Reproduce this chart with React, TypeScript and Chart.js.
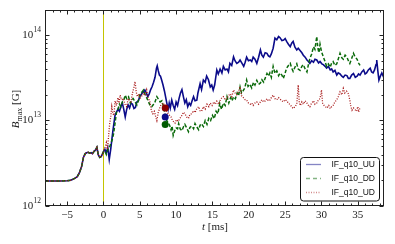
import React, { useEffect, useRef } from "react";
import { Chart, registerables } from "chart.js";
Chart.register(...registerables);

// Time t [ms], B_max in units of 10^12 G
const preShared: [number, number][] = [
  [-8, 1.96], [-6, 1.96], [-5, 1.97], [-4.5, 2.0], [-4.2, 2.05], [-3.9, 2.12], [-3.6, 2.2], [-3.3, 2.45],
  [-3.0, 2.9], [-2.75, 3.7], [-2.5, 4.1], [-2.3, 4.2], [-2.1, 4.25], [-1.9, 4.15], [-1.7, 4.2], [-1.5, 4.1],
  [-1.3, 4.35], [-1.1, 4.5], [-0.9, 4.85], [-0.7, 3.95], [-0.5, 3.7], [-0.3, 3.8], [-0.1, 4.1], [0, 4.3],
];

const seriesUU: [number, number][] = [
  [0.2, 4.6], [0.4, 4.2], [0.6, 4.8], [0.8, 3.5], [1.0, 4.6], [1.15, 5.9], [1.3, 7.5], [1.45, 9.3], [1.6, 11.5],
  [1.8, 12.5], [2.0, 13.5], [2.2, 12.8], [2.4, 14.5], [2.6, 16.0], [2.8, 13.5], [3.0, 11.0], [3.2, 13.5], [3.4, 15.2],
  [3.6, 14.0], [3.8, 16.0], [4.0, 15.5], [4.2, 13.8], [4.4, 14.2], [4.6, 16.5], [4.8, 17.0], [5.0, 19.0], [5.3, 20.7],
  [5.5, 21.5], [5.7, 22.7], [5.9, 21.0], [6.1, 19.0], [6.3, 20.5], [6.5, 23.0], [6.7, 25.0], [6.9, 28.0], [7.1, 32.0],
  [7.3, 41.0], [7.4, 43.5], [7.55, 38.0], [7.7, 34.0], [7.85, 33.0], [8.0, 30.0], [8.2, 26.0], [8.4, 22.0], [8.6, 18.0],
  [8.75, 15.5], [8.9, 13.5], [9.05, 16.0], [9.2, 14.0], [9.4, 17.3], [9.6, 15.0], [9.8, 13.5], [10.0, 16.5], [10.2, 15.0],
  [10.4, 18.0], [10.6, 21.0], [10.8, 23.0], [11.0, 19.0], [11.2, 16.0], [11.4, 17.5], [11.6, 14.5], [11.8, 16.0],
  [12.0, 15.0], [12.2, 17.0], [12.4, 19.0], [12.6, 17.0], [12.85, 17.3], [13.0, 21.0], [13.3, 27.0], [13.5, 23.0],
  [13.75, 29.7], [14.0, 28.0], [14.2, 33.0], [14.45, 30.0], [14.7, 24.7], [14.9, 26.0], [15.1, 22.7], [15.3, 26.0],
  [15.6, 39.0], [15.8, 35.0], [16.05, 40.0], [16.3, 36.0], [16.5, 43.0], [16.75, 39.0], [17.0, 40.0], [17.2, 37.0],
  [17.4, 46.6], [17.65, 44.0], [17.9, 55.6], [18.1, 50.0], [18.35, 46.6], [18.6, 48.0], [18.8, 51.0], [19.05, 47.0],
  [19.3, 43.0], [19.5, 48.0], [19.7, 55.0], [19.95, 50.0], [20.2, 51.0], [20.4, 49.0], [20.6, 55.0], [20.85, 52.0],
  [21.1, 46.6], [21.35, 55.0], [21.6, 66.8], [21.8, 58.0], [22.0, 55.0], [22.25, 62.0], [22.5, 61.0], [22.7, 57.0],
  [22.9, 55.6], [23.1, 60.0], [23.35, 70.0], [23.6, 92.0], [23.85, 88.0], [24.1, 96.0], [24.3, 93.0], [24.55, 86.0],
  [24.8, 87.5], [25.0, 91.0], [25.2, 84.0], [25.45, 78.0], [25.7, 73.0], [25.9, 80.0], [26.1, 84.0], [26.35, 72.0],
  [26.6, 66.8], [26.8, 70.0], [27.05, 66.0], [27.3, 62.0], [27.5, 58.0], [27.75, 55.0], [28.0, 51.0], [28.2, 49.0],
  [28.4, 46.6], [28.65, 50.0], [28.9, 48.0], [29.1, 52.0], [29.35, 51.0], [29.6, 47.0], [29.8, 49.0], [30.05, 46.0],
  [30.25, 45.0], [30.5, 43.0], [30.7, 41.0], [30.95, 43.0], [31.2, 39.0], [31.4, 40.0], [31.6, 37.0], [31.85, 38.5],
  [32.1, 34.0], [32.3, 36.0], [32.55, 35.0], [32.8, 33.0], [33.0, 32.0], [33.25, 34.0], [33.5, 33.5], [33.7, 31.0],
  [33.9, 31.0], [34.15, 34.0], [34.4, 35.5], [34.65, 32.0], [34.9, 33.0], [35.1, 35.0], [35.3, 34.0], [35.55, 37.0],
  [35.8, 39.0], [36.0, 35.0], [36.2, 36.0], [36.45, 39.0], [36.7, 41.0], [36.9, 37.0], [37.1, 36.0], [37.3, 39.0],
  [37.5, 45.0], [37.6, 51.0], [37.75, 38.0], [37.9, 29.7], [38.1, 33.0], [38.3, 36.0], [38.55, 32.0],
];

const seriesDD: [number, number][] = [
  [0.2, 4.4], [0.4, 4.0], [0.6, 4.6], [0.8, 4.8], [1.0, 5.3], [1.2, 5.9], [1.4, 7.0], [1.6, 9.3], [1.8, 12.6],
  [2.0, 13.5], [2.2, 15.5], [2.4, 14.5], [2.6, 16.5], [2.8, 17.3], [3.0, 19.8], [3.2, 18.0], [3.45, 19.0], [3.7, 16.0],
  [3.9, 17.5], [4.1, 18.0], [4.35, 16.5], [4.6, 15.2], [4.85, 17.5], [5.05, 20.7], [5.3, 21.5], [5.5, 22.7], [5.75, 20.0],
  [5.95, 18.5], [6.2, 16.5], [6.4, 15.2], [6.65, 14.5], [6.9, 15.5], [7.1, 16.5], [7.35, 19.0], [7.6, 17.5], [7.8, 16.5],
  [8.05, 17.0], [8.3, 14.0], [8.5, 11.5], [8.7, 10.0], [8.9, 9.5], [9.1, 8.8], [9.3, 7.8], [9.45, 8.6], [9.6, 6.7],
  [9.8, 7.6], [10.0, 8.2], [10.2, 8.0], [10.35, 9.2], [10.55, 8.0], [10.8, 7.6], [11.0, 8.4], [11.2, 9.0], [11.45, 8.2],
  [11.7, 7.4], [11.9, 8.3], [12.15, 8.6], [12.4, 8.0], [12.6, 9.2], [12.85, 8.4], [13.1, 7.8], [13.3, 8.8], [13.5, 9.2],
  [13.75, 8.5], [14.0, 10.0], [14.25, 9.0], [14.5, 10.6], [14.75, 10.0], [15.0, 11.5], [15.25, 10.5], [15.5, 12.8],
  [15.75, 12.0], [16.0, 15.8], [16.25, 13.5], [16.5, 16.0], [16.75, 15.0], [17.0, 19.0], [17.25, 16.0], [17.5, 18.5],
  [17.7, 17.0], [17.9, 19.0], [18.15, 18.0], [18.4, 21.0], [18.6, 19.5], [18.8, 24.7], [19.0, 21.0], [19.25, 22.5],
  [19.45, 24.0], [19.7, 29.7], [19.9, 25.0], [20.15, 26.5], [20.4, 24.0], [20.65, 28.0], [20.85, 26.0], [21.1, 29.5],
  [21.35, 26.5], [21.6, 27.5], [21.8, 30.0], [22.05, 28.0], [22.3, 32.0], [22.5, 35.5], [22.7, 33.0], [22.9, 36.0],
  [23.1, 32.0], [23.35, 43.0], [23.6, 35.5], [23.85, 38.0], [24.1, 33.5], [24.3, 36.0], [24.55, 34.0], [24.75, 31.0],
  [25.0, 36.0], [25.2, 41.0], [25.45, 44.0], [25.7, 46.6], [25.9, 41.0], [26.1, 37.5], [26.35, 42.0], [26.6, 46.0],
  [26.8, 40.0], [27.05, 38.5], [27.3, 43.0], [27.5, 45.0], [27.75, 40.0], [28.0, 37.0], [28.2, 45.0], [28.4, 53.0],
  [28.65, 60.0], [28.9, 73.0], [29.1, 68.0], [29.35, 96.0], [29.5, 70.0], [29.65, 62.0], [29.8, 78.0], [30.0, 64.0],
  [30.25, 55.6], [30.45, 50.0], [30.7, 43.0], [30.95, 46.0], [31.2, 42.0], [31.4, 47.0], [31.6, 49.0], [31.85, 44.0],
  [32.1, 46.0], [32.3, 52.0], [32.55, 61.0], [32.8, 54.0], [33.0, 52.0], [33.25, 58.0], [33.5, 55.0], [33.7, 50.0],
  [33.9, 46.5], [34.15, 53.0], [34.4, 61.0], [34.6, 56.0], [34.9, 52.0], [35.1, 47.0], [35.3, 44.0],
];

const seriesUD: [number, number][] = [
  [0.2, 4.8], [0.4, 5.5], [0.55, 4.6], [0.7, 6.4], [0.85, 9.0], [1.0, 11.0], [1.15, 14.5], [1.3, 12.0], [1.45, 11.5],
  [1.6, 17.0], [1.8, 15.0], [2.0, 18.5], [2.15, 16.0], [2.3, 19.8], [2.5, 17.5], [2.75, 18.0], [2.95, 15.5], [3.2, 14.5],
  [3.4, 18.0], [3.6, 17.0], [3.8, 16.5], [4.0, 21.0], [4.2, 24.5], [4.35, 28.5], [4.5, 22.0], [4.65, 19.0], [4.85, 20.5],
  [5.05, 18.0], [5.3, 19.5], [5.5, 21.0], [5.75, 19.5], [5.95, 22.7], [6.15, 18.5], [6.4, 16.5], [6.6, 13.0], [6.8, 12.0],
  [7.0, 12.8], [7.2, 11.0], [7.35, 10.0], [7.55, 12.5], [7.8, 14.5], [8.0, 15.5], [8.25, 16.0], [8.45, 14.5], [8.65, 13.0],
  [8.9, 12.0], [9.1, 11.5], [9.3, 11.0], [9.5, 10.0], [9.7, 9.6], [9.85, 9.3], [10.05, 10.2], [10.3, 9.8], [10.5, 10.5],
  [10.8, 11.5], [11.0, 12.5], [11.2, 12.0], [11.45, 11.0], [11.7, 10.6], [11.9, 11.8], [12.15, 12.0], [12.4, 13.0],
  [12.6, 12.4], [12.85, 13.8], [13.1, 14.5], [13.3, 13.0], [13.5, 12.8], [13.75, 14.5], [14.0, 13.6], [14.25, 15.5],
  [14.5, 14.5], [14.7, 16.0], [14.95, 15.0], [15.2, 16.5], [15.4, 15.5], [15.6, 16.8], [15.85, 15.5], [16.1, 17.5],
  [16.3, 18.5], [16.5, 19.0], [16.75, 17.5], [17.0, 18.0], [17.2, 19.5], [17.45, 20.5], [17.65, 19.0], [17.9, 22.7],
  [18.1, 21.0], [18.35, 20.0], [18.6, 22.0], [18.8, 24.7], [19.0, 19.5], [19.25, 18.5], [19.5, 17.5], [19.7, 17.3],
  [19.95, 16.0], [20.2, 15.5], [20.4, 16.0], [20.6, 15.0], [20.85, 16.0], [21.1, 16.5], [21.35, 15.5], [21.6, 16.5],
  [21.8, 17.5], [22.05, 16.5], [22.3, 17.0], [22.5, 18.0], [22.7, 17.0], [22.9, 17.3], [23.1, 18.5], [23.35, 19.8],
  [23.6, 18.0], [23.85, 17.5], [24.1, 18.5], [24.3, 17.8], [24.55, 17.0], [24.75, 16.5], [25.0, 17.5], [25.2, 17.0],
  [25.45, 16.0], [25.7, 15.2], [25.9, 14.5], [26.1, 13.8], [26.35, 14.5], [26.6, 15.5], [26.8, 26.0], [26.95, 16.0],
  [27.1, 15.0], [27.3, 16.5], [27.5, 15.5], [27.75, 17.0], [28.0, 16.0], [28.2, 15.0], [28.4, 14.5], [28.65, 16.0],
  [28.9, 17.0], [29.1, 15.5], [29.35, 16.0], [29.6, 17.5], [29.8, 18.0], [30.0, 22.7], [30.15, 16.0], [30.35, 15.0],
  [30.55, 14.5], [30.75, 14.0], [31.0, 15.0], [31.2, 13.8], [31.4, 14.5], [31.6, 15.0], [31.85, 16.5], [32.1, 17.5],
  [32.3, 19.0], [32.55, 21.6], [32.8, 20.0], [33.0, 23.7], [33.2, 21.0], [33.45, 22.0], [33.7, 20.5], [33.9, 17.3],
  [34.05, 14.5], [34.2, 13.2], [34.4, 14.0], [34.6, 13.5], [34.8, 12.8], [35.0, 14.5], [35.1, 12.6], [35.3, 14.0],
];

// Markers at t = 8.5 ms (UU, DD, UD)
const markerT = [8.5, 8.5, 8.5];
const markerB = [11.0, 9.0, 14.0];

const seriesLabels = ["IF_q10_UU", "IF_q10_DD", "IF_q10_UD"];
const seriesColors = ["#0b0b8a", "#0a6a0a", "#a81818"];
const markerColors = ["#0b0b8a", "#005a00", "#8b0000"];

const xTicks = [-5, 0, 5, 10, 15, 20, 25, 30, 35];
const yTickExps = [12, 13, 14];
const X_MIN = -7.9;
const X_MAX = 38.6;
const Y_MIN = 1e12;
const Y_MAX = 1.96e14;
const UNIT = 1e12;

const SERIF = '"Liberation Serif", "DejaVu Serif", serif';
const SANS = '"Liberation Sans", "DejaVu Sans", sans-serif';

const toXY = (arr: [number, number][]) => arr.map(([t, b]) => ({ x: t, y: b * UNIT }));

const decorPlugin = {
  id: "decor",
  beforeDatasetsDraw(chart: any) {
    const { ctx, chartArea: a, scales } = chart;
    const px = Math.round(scales.x.getPixelForValue(0)) + 0.5;
    ctx.save();
    ctx.strokeStyle = "#c4c400";
    ctx.lineWidth = 1;
    ctx.beginPath();
    ctx.moveTo(px, a.top);
    ctx.lineTo(px, a.bottom);
    ctx.stroke();
    ctx.restore();
  },
  afterDraw(chart: any) {
    const { ctx, chartArea: a, scales } = chart;
    const xs = scales.x;
    const ys = scales.y;
    const L = a.left - 0.5, R = a.right - 0.5, T = a.top + 0.5, B = a.bottom - 0.5;
    ctx.save();
    // frame
    ctx.strokeStyle = "#222";
    ctx.lineWidth = 1;
    ctx.strokeRect(L, T, R - L, B - T);

    // x ticks
    ctx.beginPath();
    for (let v = Math.ceil(X_MIN); v <= X_MAX; v++) {
      const p = Math.round(xs.getPixelForValue(v)) + 0.5;
      const len = v % 5 === 0 ? 4 : 2;
      ctx.moveTo(p, B); ctx.lineTo(p, B - len);
      ctx.moveTo(p, T); ctx.lineTo(p, T + len);
    }
    // y ticks
    for (let e = 12; e <= 14; e++) {
      for (let m = 1; m <= 9; m++) {
        const v = m * Math.pow(10, e);
        if (v < Y_MIN || v > Y_MAX) continue;
        const p = Math.round(ys.getPixelForValue(v)) + 0.5;
        const len = m === 1 ? 4 : 2;
        ctx.moveTo(L, p); ctx.lineTo(L + len, p);
        ctx.moveTo(R, p); ctx.lineTo(R - len, p);
      }
    }
    ctx.stroke();

    // x tick labels
    ctx.fillStyle = "#222";
    ctx.font = `11px ${SERIF}`;
    ctx.textAlign = "center";
    ctx.textBaseline = "alphabetic";
    for (const v of xTicks) {
      const p = xs.getPixelForValue(v);
      const s = v < 0 ? "\u2212" + Math.abs(v) : String(v);
      ctx.fillText(s, p, a.bottom + 12);
    }

    // y tick labels 10^n
    for (const e of yTickExps) {
      const p = ys.getPixelForValue(Math.pow(10, e));
      ctx.font = `7.5px ${SERIF}`;
      const sup = String(e);
      const sw = ctx.measureText(sup).width;
      const right = a.left - 5;
      ctx.textAlign = "left";
      ctx.fillText(sup, right - sw, p - 3);
      ctx.font = `11px ${SERIF}`;
      ctx.textAlign = "right";
      ctx.fillText("10", right - sw - 0.3, p + 3);
    }

    // x axis label
    ctx.textAlign = "left";
    ctx.font = `italic 11px ${SERIF}`;
    const tW = ctx.measureText("t").width;
    ctx.font = `11px ${SERIF}`;
    const restX = " [ms]";
    const rW = ctx.measureText(restX).width;
    const cx = (a.left + a.right) / 2;
    const sx = cx - (tW + rW) / 2;
    ctx.font = `italic 11px ${SERIF}`;
    ctx.fillText("t", sx, a.bottom + 24);
    ctx.font = `11px ${SERIF}`;
    ctx.fillText(restX, sx + tW, a.bottom + 24);

    // y axis label
    ctx.save();
    ctx.translate(19, (a.top + a.bottom) / 2 + 1);
    ctx.rotate(-Math.PI / 2);
    ctx.font = `italic 11px ${SERIF}`;
    const bW = ctx.measureText("B").width;
    ctx.font = `8px ${SERIF}`;
    const mW = ctx.measureText("max").width;
    ctx.font = `11px ${SERIF}`;
    const gW = ctx.measureText(" [G]").width;
    const yx = -(bW + mW + gW) / 2;
    ctx.font = `italic 11px ${SERIF}`;
    ctx.fillText("B", yx, 0);
    ctx.font = `8px ${SERIF}`;
    ctx.fillText("max", yx + bW, 2.5);
    ctx.font = `11px ${SERIF}`;
    ctx.fillText(" [G]", yx + bW + mW, 0);
    ctx.restore();

    // legend
    const lx = 300.5, ly = 157.5, lw = 79, lh = 43.5, r = 3;
    ctx.beginPath();
    ctx.moveTo(lx + r, ly);
    ctx.lineTo(lx + lw - r, ly);
    ctx.quadraticCurveTo(lx + lw, ly, lx + lw, ly + r);
    ctx.lineTo(lx + lw, ly + lh - r);
    ctx.quadraticCurveTo(lx + lw, ly + lh, lx + lw - r, ly + lh);
    ctx.lineTo(lx + r, ly + lh);
    ctx.quadraticCurveTo(lx, ly + lh, lx, ly + lh - r);
    ctx.lineTo(lx, ly + r);
    ctx.quadraticCurveTo(lx, ly, lx + r, ly);
    ctx.closePath();
    ctx.fillStyle = "rgba(255,255,255,0.9)";
    ctx.fill();
    ctx.strokeStyle = "#111";
    ctx.lineWidth = 1;
    ctx.stroke();

    const dashes = [[], [4, 3], [1, 1.5]];
    const rows = [164.5, 178.5, 192.5];
    ctx.font = `8.5px ${SANS}`;
    ctx.textAlign = "left";
    ctx.textBaseline = "middle";
    seriesLabels.forEach((lab, i) => {
      ctx.save();
      ctx.globalAlpha = 0.5;
      ctx.strokeStyle = seriesColors[i];
      ctx.lineWidth = 1.3;
      ctx.setLineDash(dashes[i]);
      ctx.beginPath();
      ctx.moveTo(306, rows[i]);
      ctx.lineTo(321, rows[i]);
      ctx.stroke();
      ctx.restore();
      ctx.fillStyle = "#111";
      ctx.fillText(lab, 331.5, rows[i] + 0.5);
    });
    ctx.restore();
  },
};

export default function App() {
  const ref = useRef<HTMLCanvasElement | null>(null);
  useEffect(() => {
    if (!ref.current) return;
    const lineBase = {
      type: "line" as const,
      pointRadius: 0,
      tension: 0,
      fill: false,
    };
    const chart = new Chart(ref.current, {
      type: "line",
      data: {
        datasets: [
          {
            type: "scatter",
            label: "markers",
            data: markerT.map((t, i) => ({ x: t, y: markerB[i] * UNIT })),
            pointRadius: 3.5,
            pointBackgroundColor: markerColors,
            pointBorderColor: markerColors,
            pointBorderWidth: 0,
            showLine: false,
            order: 0,
          } as any,
          {
            ...lineBase,
            label: seriesLabels[2],
            data: toXY([...preShared, ...seriesUD]),
            borderColor: seriesColors[2],
            borderWidth: 1.3,
            borderDash: [1, 1.5],
            order: 1,
          },
          {
            ...lineBase,
            label: seriesLabels[1],
            data: toXY([...preShared, ...seriesDD]),
            borderColor: seriesColors[1],
            borderWidth: 1.5,
            borderDash: [3.5, 2],
            order: 2,
          },
          {
            ...lineBase,
            label: seriesLabels[0],
            data: toXY([...preShared, ...seriesUU]),
            borderColor: seriesColors[0],
            borderWidth: 1.6,
            order: 3,
          },
        ],
      },
      options: {
        animation: false,
        responsive: false,
        maintainAspectRatio: false,
        parsing: false as any,
        layout: { padding: { left: 46, right: 11, top: 10, bottom: 38 } },
        scales: {
          x: { type: "linear", min: X_MIN, max: X_MAX, display: false },
          y: { type: "logarithmic", min: Y_MIN, max: Y_MAX, display: false },
        },
        plugins: {
          legend: { display: false },
          tooltip: { enabled: false },
        },
      },
      plugins: [decorPlugin],
    });
    return () => chart.destroy();
  }, []);
  return (
    <div style={{ position: "fixed", left: 0, top: 0, width: 395, height: 244, background: "#fff" }}>
      <canvas ref={ref} width={395} height={244} style={{ width: 395, height: 244 }} />
    </div>
  );
}
